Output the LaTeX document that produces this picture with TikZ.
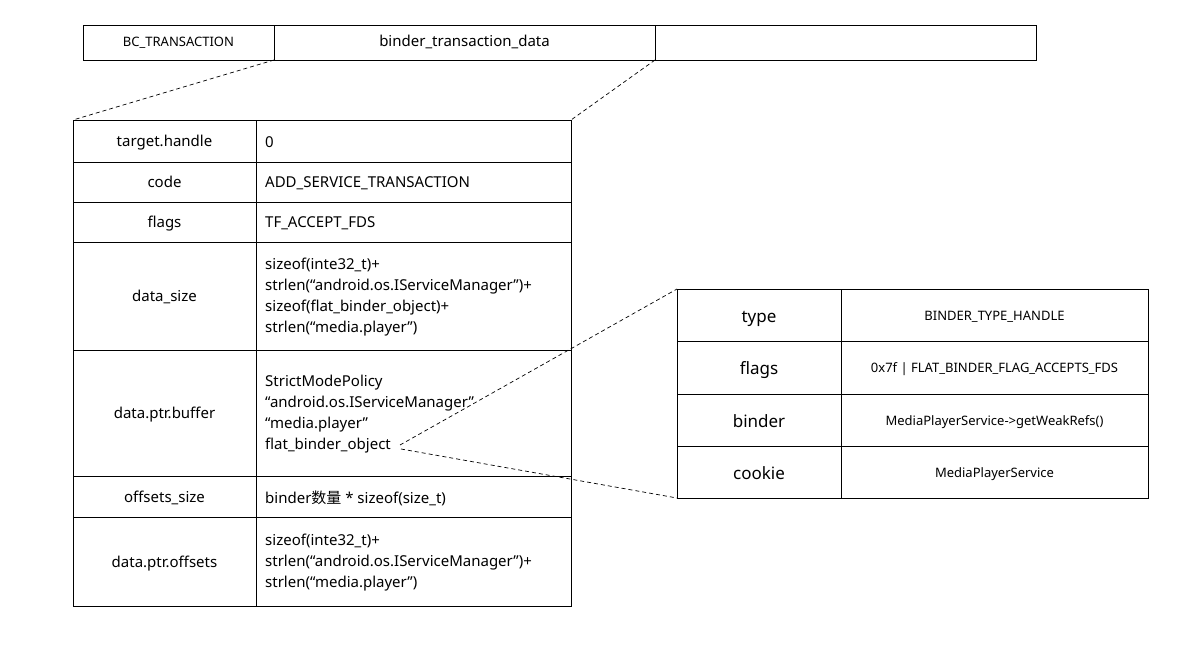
\documentclass[tikz,border=0pt]{standalone}
\usepackage{fontspec}
\setmainfont{Noto Sans}
\newfontfamily\cjk{Noto Sans CJK SC}
\usetikzlibrary{positioning}

\tikzset{
  cell/.style={draw, line width=0.8pt, inner sep=0pt, outer sep=0pt},
  keycell/.style={cell, minimum width=183pt, text height=14pt, text depth=3pt, font=\fontsize{15}{21}\selectfont},
  valcell/.style={cell, minimum width=315pt},
  valtext/.style={anchor=west, align=left, inner sep=0pt, font=\fontsize{15}{21}\selectfont},
  objkey/.style={cell, minimum width=164pt, text height=17pt, text depth=3pt, font=\fontsize{17}{21}\selectfont},
  objval/.style={cell, minimum width=307pt, text height=12pt, text depth=2pt, font=\fontsize{13}{17}\selectfont},
  barcell/.style={cell, minimum height=35pt, text height=12pt, text depth=3pt},
  zoomline/.style={line width=0.7pt, dash pattern=on 4pt off 3pt}
}

\begin{document}
\begin{tikzpicture}[x=1pt,y=-1pt]
    \useasboundingbox (0,0) rectangle (1192,647);

    % command stream
    \node[barcell, minimum width=191pt, font=\fontsize{13}{16}\selectfont]
      (bc) at (178.5,42.5) {BC\_TRANSACTION};
    \node[barcell, minimum width=381pt, font=\fontsize{15}{18}\selectfont]
      (btd) at (464.5,42.5) {binder\_transaction\_data};
    \node[cell, minimum width=381pt, minimum height=35pt] (rest) at (845.5,42.5) {};

    % binder_transaction_data, left column
    \foreach \rname/\ya/\yb/\rkey in {hdl/120/162/target.handle, code/162/202/code,
      flags/202/242/flags, dsize/242/350/data\_size, buf/350/476/data.ptr.buffer,
      osize/476/517/offsets\_size, offs/517/606/data.ptr.offsets}
    {
      \node[keycell, minimum height=\yb-\ya] (\rname-k) at (164.5,{(\ya+\yb)/2}) {\rkey};
      \node[valcell, minimum height=\yb-\ya] (\rname-v) at (413.5,{(\ya+\yb)/2}) {};
    }

    % binder_transaction_data, values
    \node[valtext] (hdl-t) at (265,142) {0};
    \node[valtext] (code-t) at (265,183) {ADD\_SERVICE\_TRANSACTION};
    \node[valtext] (flags-t) at (265,223) {TF\_ACCEPT\_FDS};
    \node[valtext] (dsize-t) at (265,297.5) {sizeof(inte32\_t)+\\strlen(“android.os.IServiceManager”)+\\sizeof(flat\_binder\_object)+\\strlen(“media.player”)};
    \node[valtext] (buf-t) at (265,414.5) {StrictModePolicy\\“android.os.IServiceManager”\\“media.player”\\flat\_binder\_object};
    \node[valtext] (osize-t) at (265,498) {binder{\cjk 数量} * sizeof(size\_t)};
    \node[valtext] (offs-t) at (265,562.5) {sizeof(inte32\_t)+\\strlen(“android.os.IServiceManager”)+\\strlen(“media.player”)};

    % flat_binder_object
    \node[objkey, minimum height=52pt] (type-k) at (759,315) {type};
    \node[objval, minimum height=52pt] (type-v) at (994.5,315) {BINDER\_TYPE\_HANDLE};
    \node[objkey, minimum height=53pt] (oflags-k) at (759,367.5) {flags};
    \node[objval, minimum height=53pt] (oflags-v) at (994.5,367.5) {0x7f | FLAT\_BINDER\_FLAG\_ACCEPTS\_FDS};
    \node[objkey, minimum height=52pt] (binder-k) at (759,420) {binder};
    \node[objval, minimum height=52pt] (binder-v) at (994.5,420) {MediaPlayerService->getWeakRefs()};
    \node[objkey, minimum height=52pt] (cookie-k) at (759,472) {cookie};
    \node[objval, minimum height=52pt] (cookie-v) at (994.5,472) {MediaPlayerService};

    \coordinate (fbo a) at (400,445);
    \coordinate (fbo b) at (401,449);

    \draw[zoomline] (btd.south west) -- (hdl-k.north west);
    \draw[zoomline] (btd.south east) -- (hdl-v.north east);
    \draw[zoomline] (fbo a) -- (type-k.north west);
    \draw[zoomline] (fbo b) -- (cookie-k.south west);
\end{tikzpicture}
\end{document}
